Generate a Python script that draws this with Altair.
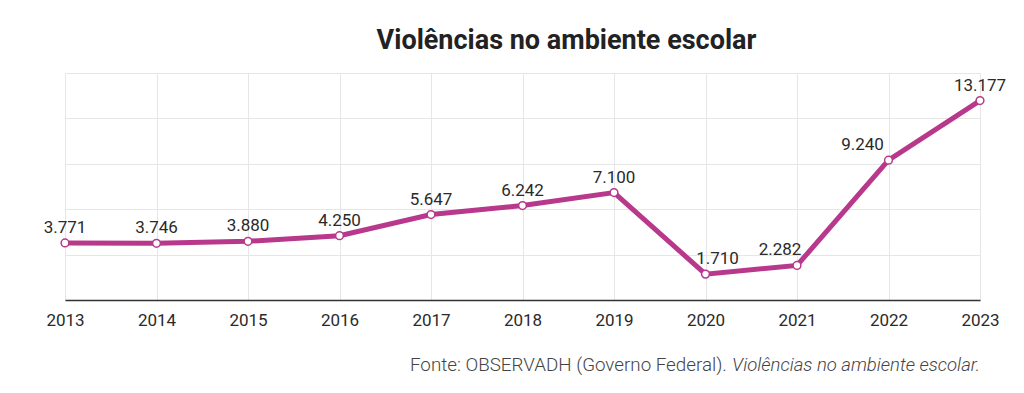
import altair as alt
import pandas as pd

years = [2013, 2014, 2015, 2016, 2017, 2018, 2019, 2020, 2021, 2022, 2023]
values = [3771, 3746, 3880, 4250, 5647, 6242, 7100, 1710, 2282, 9240, 13177]
labels = ["3.771", "3.746", "3.880", "4.250", "5.647", "6.242", "7.100", "1.710", "2.282", "9.240", "13.177"]

df = pd.DataFrame({"ano": [str(y) for y in years], "valor": values, "rotulo": labels})

COLOR = "#b8388c"
FONT = "Roboto"

x = alt.X("ano:O", title=None, scale=alt.Scale(paddingOuter=0, paddingInner=0, padding=0),
          axis=alt.Axis(labelAngle=0, labelFontSize=17, labelColor="#2a2a2a", labelFont=FONT,
                        labelFontWeight="normal",
                        ticks=False, domain=True, domainColor="#333", domainWidth=1.5,
                        grid=True, gridColor="#e6e6e6", labelPadding=12))
y = alt.Y("valor:Q", title=None,
          scale=alt.Scale(domain=[0, 15000], nice=False),
          axis=alt.Axis(values=[0, 3000, 6000, 9000, 12000, 15000], labels=False, ticks=False,
                        domain=False, grid=True, gridColor="#e6e6e6"))

base = alt.Chart(df).encode(x=x, y=y)

line = base.mark_line(color=COLOR, strokeWidth=5)
pts = base.mark_point(filled=True, fill="white", stroke=COLOR, strokeWidth=1.5, size=60, opacity=1)

def lab(sel, dx):
    return base.transform_filter(alt.FieldOneOfPredicate(field="ano", oneOf=sel)).mark_text(
        font=FONT, fontSize=17, color="#2a2a2a", baseline="alphabetic", dy=-10, dx=dx
    ).encode(text="rotulo:N")

others = [str(v) for v in years if v not in (2020, 2021, 2022)]
texts = lab(others, 0) + lab(["2020"], 12) + lab(["2021"], -17) + lab(["2022"], -26)

src1 = alt.Chart(df).transform_filter(alt.datum.ano == "2013").mark_text(
    font=FONT, fontSize=18.8, color="#444", align="left", baseline="middle", fontWeight=300
).encode(x=alt.value(345), y=alt.value(292), text=alt.value("Fonte: OBSERVADH (Governo Federal)."))
src2 = alt.Chart(df).transform_filter(alt.datum.ano == "2013").mark_text(
    font=FONT, fontSize=18.5, color="#444", align="right", baseline="middle", fontStyle="italic", fontWeight=300
).encode(x=alt.value(915), y=alt.value(292), text=alt.value("Violências no ambiente escolar."))

chart = alt.layer(line, pts, texts, src1, src2).properties(
    width=915, height=227,
    autosize=alt.AutoSizeParams(type="none"),
    padding={"left": 57, "top": 65, "right": 36, "bottom": 80},
    title=alt.TitleParams("Violências no ambiente escolar", font=FONT, fontSize=27, fontWeight="bold",
                          color="#222", anchor="middle", dx=44, offset=18),
).configure_view(stroke=None)

chart.save("out.html", embed_options={"renderer": "svg", "actions": False})
